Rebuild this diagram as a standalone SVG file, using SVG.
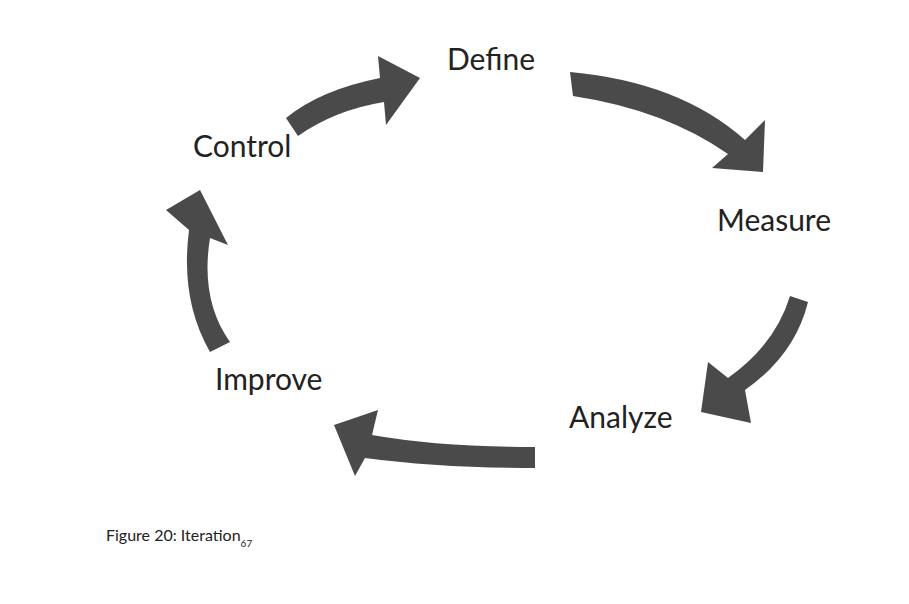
<svg xmlns="http://www.w3.org/2000/svg" width="909" height="604" viewBox="0 0 909 604">
<style>
.a{fill:#4a4a4a}
.t{font-family:Lato,"Open Sans",sans-serif;font-size:30px;fill:#222}
</style>
<rect width="909" height="604" fill="#fff"/>
<g id="connectors">
<path class="a" d="M570,72 Q680,82 745,140 L765,120 L763,172 L712,168 L728,154 Q665,110 573,96 Z"/>
<path class="a" d="M790,296 L808,302 Q795,355 745,390 L751,423 L701,412 L708,362 L728,378 Q775,345 790,296 Z"/>
<path class="a" d="M535,447 Q440,447 372,435 L378,410 L334,425 L355,476 L365,458 Q440,468 535,468 Z"/>
<path class="a" d="M210,352 L230,342 Q200,300 210,238 L228,245 L200,190 L166,210 L189,230 Q180,300 210,352 Z"/>
<path class="a" d="M286,118 Q320,90 380,78 L378,56 L420,78 L386,125 L384,102 Q335,110 298,136 Z"/>
</g>
<g id="define"><text class="t" x="447" y="70">Define</text></g>
<g id="measure"><text class="t" x="717" y="231">Measure</text></g>
<g id="analyze"><text class="t" x="569" y="428">Analyze</text></g>
<g id="improve"><text class="t" x="215" y="390">Improve</text></g>
<g id="control"><text class="t" x="193" y="157">Control</text></g>
<g id="caption"><text x="106" y="541" font-family="Lato,'Open Sans',sans-serif" font-size="16" fill="#222">Figure 20: Iteration<tspan font-size="10" dy="6">67</tspan></text></g>
</svg>
